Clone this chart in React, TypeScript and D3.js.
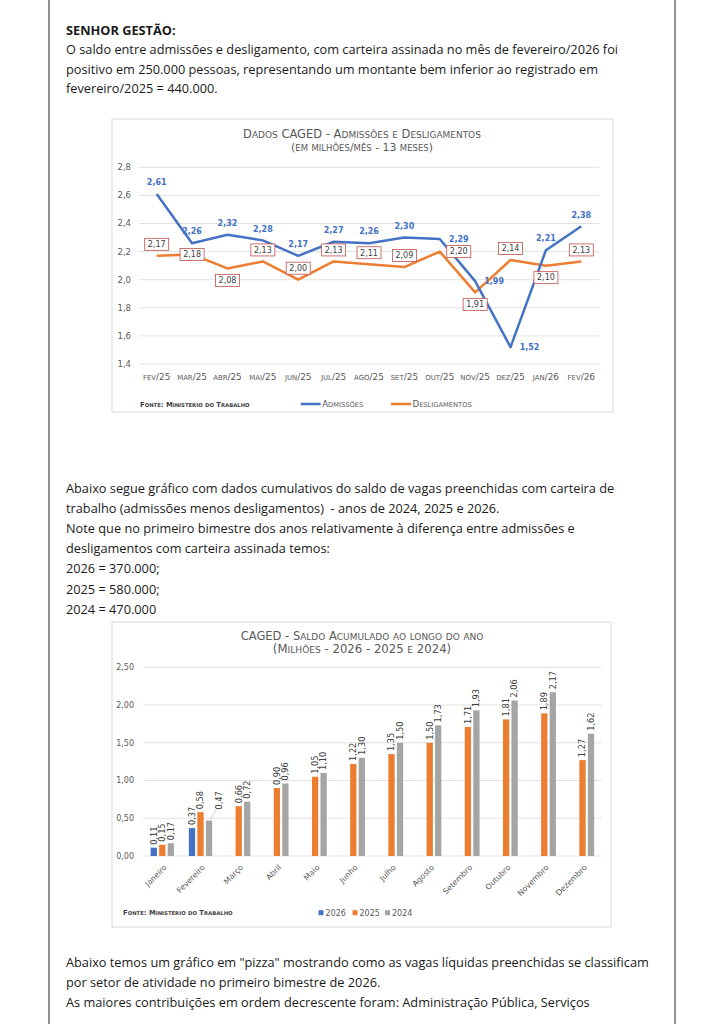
import React from "react";
import * as d3 from "d3";

const W = 724;
const H = 1024;

// ---------- text ----------
const topTitle = "SENHOR GESTÃO:";
const topLines = [
  "O saldo entre admissões e desligamento, com carteira assinada no mês de fevereiro/2026 foi",
  "positivo em 250.000 pessoas, representando um montante bem inferior ao registrado em",
  "fevereiro/2025 = 440.000.",
];
const midLines = [
  "Abaixo segue gráfico com dados cumulativos do saldo de vagas preenchidas com carteira de",
  "trabalho (admissões menos desligamentos)  - anos de 2024, 2025 e 2026.",
  "Note que no primeiro bimestre dos anos relativamente à diferença entre admissões e",
  "desligamentos com carteira assinada temos:",
  "2026 = 370.000;",
  "2025 = 580.000;",
  "2024 = 470.000",
];
const bottomLines = [
  "Abaixo temos um gráfico em \"pizza\" mostrando como as vagas líquidas preenchidas se classificam",
  "por setor de atividade no primeiro bimestre de 2026.",
  "As maiores contribuições em ordem decrescente foram: Administração Pública, Serviços",
];

// ---------- chart 1 data ----------
const months1 = ["fev/25", "mar/25", "abr/25", "mai/25", "jun/25", "jul/25", "ago/25", "set/25", "out/25", "nov/25", "dez/25", "jan/26", "fev/26"];
const admissoes = [2.61, 2.26, 2.32, 2.28, 2.17, 2.27, 2.26, 2.30, 2.29, 1.99, 1.52, 2.21, 2.38];
const desligamentos = [2.17, 2.18, 2.08, 2.13, 2.00, 2.13, 2.11, 2.09, 2.20, 1.91, 2.14, 2.10, 2.13];
const admLabelPos = ["above", "above", "above", "above", "above", "above", "above", "above", "right", "right", "right", "above", "above"];
const deslLabelPos = ["above", "center", "below", "above", "above", "above", "above", "above", "right", "below", "above", "below", "above"];
const chart1Title = "Dados CAGED - Admissões e Desligamentos";
const chart1Sub = "(em milhões/mês - 13 meses)";
const series1 = ["Admissões", "Desligamentos"];

// ---------- chart 2 data ----------
const months2 = ["Janeiro", "Fevereiro", "Março", "Abril", "Maio", "Junho", "Julho", "Agosto", "Setembro", "Outubro", "Novembro", "Dezembro"];
const years = ["2026", "2025", "2024"];
const saldo2026 = [0.11, 0.37];
const saldo2025 = [0.15, 0.58, 0.66, 0.90, 1.05, 1.22, 1.35, 1.50, 1.71, 1.81, 1.89, 1.27];
const saldo2024 = [0.17, 0.47, 0.72, 0.96, 1.10, 1.30, 1.50, 1.73, 1.93, 2.06, 2.17, 1.62];
const chart2Title = "CAGED - Saldo Acumulado ao longo do ano";
const chart2Sub = "(Milhões - 2026 - 2025 e 2024)";
const fonte = "Fonte: Ministerio do Trabalho";

const BLUE = "#4472C4";
const ORANGE = "#ED7D31";
const GRAY = "#A5A5A5";
const AXIS_TXT = "#595959";
const GRID = "#D9D9D9";
const BODY_FONT = "'Open Sans', 'Noto Sans', sans-serif";
const CHART_FONT = "'DejaVu Sans', Verdana, sans-serif";

const comma = (f: (n: number) => string) => (v: number) => f(v).replace(".", ",");

// Render text in small caps: lowercase letters become smaller capitals.
function smallCaps(text: string, fs: number, ratio = 0.78) {
  const runs: { s: string; small: boolean }[] = [];
  for (const ch of text) {
    const isLower = ch !== ch.toUpperCase() && ch === ch.toLowerCase();
    const last = runs[runs.length - 1];
    if (last && last.small === isLower) last.s += ch;
    else runs.push({ s: ch, small: isLower });
  }
  return runs.map((r, i) => (
    <tspan key={i} fontSize={r.small ? fs * ratio : fs}>
      {r.small ? r.s.toUpperCase() : r.s}
    </tspan>
  ));
}

function Chart1() {
  const box = { x: 112, y: 119, w: 501, h: 293 };
  const x = d3.scalePoint<string>().domain(months1).range([139, 599]).padding(0.5);
  const y = d3.scaleLinear().domain([1.4, 2.8]).range([364, 167.3]);
  const yTicks = y.ticks(7);
  const fmt1 = comma(d3.format(".1f"));
  const fmt2 = comma(d3.format(".2f"));
  const line = d3
    .line<number>()
    .x((_, i) => x(months1[i]) as number)
    .y((d) => y(d));

  const labelOffset = (pos: string) => {
    if (pos === "above") return [0, -11.5];
    if (pos === "below") return [0, 12];
    if (pos === "right") return [19, 0];
    return [0, 0];
  };

  return (
    <g>
      <rect x={box.x} y={box.y} width={box.w} height={box.h} fill="#fff" stroke={GRID} strokeWidth={1} />
      <text x={362} y={138} textAnchor="middle" fontFamily={CHART_FONT} fill={AXIS_TXT}>
        {smallCaps(chart1Title, 11.5)}
      </text>
      <text x={362} y={151} textAnchor="middle" fontFamily={CHART_FONT} fill={AXIS_TXT}>
        {smallCaps(chart1Sub, 10.9)}
      </text>
      {yTicks.map((t) => (
        <g key={t}>
          <line x1={139} x2={599} y1={y(t)} y2={y(t)} stroke={GRID} strokeWidth={0.8} />
          <text x={131} y={y(t)} dy="0.35em" textAnchor="end" fontFamily={CHART_FONT} fontSize={8.5} fill={AXIS_TXT}>
            {fmt1(t)}
          </text>
        </g>
      ))}
      {months1.map((m) => (
        <text key={m} x={x(m)} y={379.5} textAnchor="middle" fontFamily={CHART_FONT} fill={AXIS_TXT}>
          {smallCaps(m, 8.9)}
        </text>
      ))}
      <path d={line(desligamentos) as string} fill="none" stroke={ORANGE} strokeWidth={2.5} strokeLinejoin="round" />
      <path d={line(admissoes) as string} fill="none" stroke={BLUE} strokeWidth={2.5} strokeLinejoin="round" />
      {admissoes.map((v, i) => {
        const [dx, dy] = labelOffset(admLabelPos[i]);
        return (
          <text key={"a" + i} x={(x(months1[i]) as number) + dx} y={y(v) + dy} dy="0.35em" textAnchor="middle" fontFamily={CHART_FONT} fontWeight="bold" fontSize={8} fill={BLUE}>
            {fmt2(v)}
          </text>
        );
      })}
      {desligamentos.map((v, i) => {
        const [dx, dy] = labelOffset(deslLabelPos[i]);
        const cx = (x(months1[i]) as number) + dx;
        const cy = y(v) + dy;
        return (
          <g key={"d" + i}>
            <rect x={cx - 12} y={cy - 6} width={24} height={12} fill="#fff" stroke="#C0504D" strokeWidth={0.8} />
            <text x={cx} y={cy} dy="0.35em" textAnchor="middle" fontFamily={CHART_FONT} fontSize={8} fill="#404040">
              {fmt2(v)}
            </text>
          </g>
        );
      })}
      <text x={140} y={406.5} fontFamily={CHART_FONT} fontWeight="bold" fill="#404040">
        {smallCaps(fonte, 6.8)}
      </text>
      {series1.map((s, i) => {
        const lx = [300.7, 391][i];
        return (
          <g key={s}>
            <line x1={lx} x2={lx + 20} y1={404} y2={404} stroke={i === 0 ? BLUE : ORANGE} strokeWidth={2.5} />
            <text x={lx + 21.5} y={407} fontFamily={CHART_FONT} fill={AXIS_TXT}>
              {smallCaps(s, 8.6)}
            </text>
          </g>
        );
      })}
    </g>
  );
}

function Chart2() {
  const box = { x: 112, y: 622, w: 499, h: 305 };
  const x0 = d3.scaleBand<string>().domain(months2).range([143.2, 601.6]).paddingInner(0.39).paddingOuter(0.195);
  const x1 = d3.scaleBand<string>().domain(years).range([0, x0.bandwidth()]).paddingInner(0.26);
  const y = d3.scaleLinear().domain([0, 2.5]).range([856, 667.3]);
  const fmt = comma(d3.format(".2f"));
  const colors: Record<string, string> = { "2026": BLUE, "2025": ORANGE, "2024": GRAY };
  const seriesByYear: Record<string, number[]> = { "2026": saldo2026, "2025": saldo2025, "2024": saldo2024 };

  return (
    <g>
      <rect x={box.x} y={box.y} width={box.w} height={box.h} fill="#fff" stroke={GRID} strokeWidth={1} />
      <text x={362} y={639.5} textAnchor="middle" fontFamily={CHART_FONT} fill={AXIS_TXT}>
        {smallCaps(chart2Title, 11.5)}
      </text>
      <text x={362} y={652.5} textAnchor="middle" fontFamily={CHART_FONT} fill={AXIS_TXT}>
        {smallCaps(chart2Sub, 11.7)}
      </text>
      {y.ticks(5).map((t) => (
        <g key={t}>
          <line x1={143.2} x2={601.6} y1={y(t)} y2={y(t)} stroke={GRID} strokeWidth={0.8} />
          <text x={134} y={y(t)} dy="0.35em" textAnchor="end" fontFamily={CHART_FONT} fontSize={8} fill={AXIS_TXT}>
            {fmt(t)}
          </text>
        </g>
      ))}
      {years.map((yr) =>
        seriesByYear[yr].map((v, i) => {
          const bx = (x0(months2[i]) as number) + (x1(yr) as number);
          const bw = x1.bandwidth();
          const cx = bx + bw / 2;
          const top = y(v);
          const displaced = yr === "2024" && i === 1;
          const lx = displaced ? cx + 10.5 : cx;
          const ly = displaced ? top - 11 : top - 3;
          return (
            <g key={yr + i}>
              <rect x={bx} y={top} width={bw} height={y(0) - top} fill={colors[yr]} />
              {displaced && <line x1={cx + 1} y1={top - 1} x2={lx - 3} y2={ly} stroke="#BFBFBF" strokeWidth={0.8} />}
              <text transform={`translate(${lx},${ly}) rotate(-90)`} dy="0.35em" textAnchor="start" fontFamily={CHART_FONT} fontSize={8.2} fill="#404040">
                {fmt(v)}
              </text>
            </g>
          );
        })
      )}
      {months2.map((m) => {
        const cx = (x0(m) as number) + x0.bandwidth() / 2;
        return (
          <text key={m} transform={`translate(${cx + 3},${866}) rotate(-45)`} dy="0.35em" textAnchor="end" fontFamily={CHART_FONT} fontSize={7.8} fill={AXIS_TXT}>
            {m}
          </text>
        );
      })}
      <text x={123} y={915} fontFamily={CHART_FONT} fontWeight="bold" fill="#404040">
        {smallCaps(fonte, 6.8)}
      </text>
      {years.map((yr, i) => {
        const lx = [318.5, 352.5, 385][i];
        return (
          <g key={yr}>
            <rect x={lx} y={910.2} width={5} height={5} fill={colors[yr]} />
            <text x={lx + 7} y={912.7} dy="0.35em" fontFamily={CHART_FONT} fontSize={8} fill={AXIS_TXT}>
              {yr}
            </text>
          </g>
        );
      })}
    </g>
  );
}

export default function App() {
  return (
    <svg width={W} height={H} viewBox={`0 0 ${W} ${H}`} style={{ position: "absolute", left: 0, top: 0, background: "#fff" }}>
      <rect x={0} y={0} width={W} height={H} fill="#fff" />
      <line x1={49} x2={49} y1={0} y2={H} stroke="#555" strokeWidth={1.3} />
      <line x1={675} x2={675} y1={0} y2={H} stroke="#555" strokeWidth={1.3} />
      <g fontFamily={BODY_FONT} fontSize={12.75} fill="#1a1a1a">
        <text x={66} y={35} fontWeight="bold">{topTitle}</text>
        {topLines.map((t, i) => (
          <text key={t} x={66} y={54 + i * 19.7}>{t}</text>
        ))}
        {midLines.map((t, i) => (
          <text key={t} x={66} y={493 + i * 20.1} style={{ whiteSpace: "pre" }}>{t}</text>
        ))}
        {bottomLines.map((t, i) => (
          <text key={t} x={66} y={967 + i * 20.2}>{t}</text>
        ))}
      </g>
      <Chart1 />
      <Chart2 />
    </svg>
  );
}
